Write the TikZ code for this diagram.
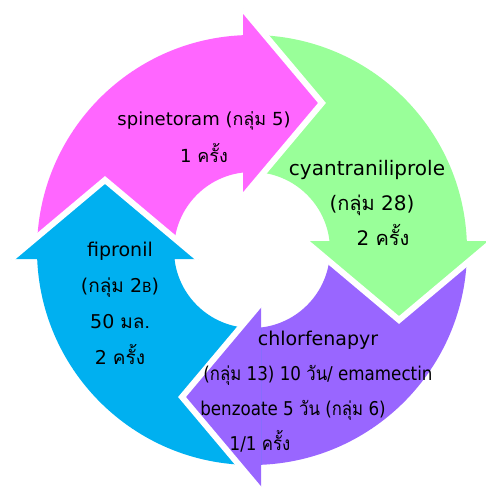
\documentclass[tikz,border=0pt]{standalone}
\usepackage{fontspec}
\setmainfont{DejaVu Sans}
\newfontfamily\thai[Script=Thai]{Loma}
\definecolor{pinkarr}{HTML}{FF66FF}
\definecolor{greenarr}{HTML}{99FF99}
\definecolor{purplearr}{HTML}{9966FF}
\definecolor{bluearr}{HTML}{00B0F0}
\begin{document}
\begin{tikzpicture}[x=1pt, y=1pt,
  every node/.style={align=center, font=\fontsize{19}{36}\selectfont},
  rim/.style={draw=white, line width=6pt, line join=miter}
]
  \useasboundingbox (-252,-240) rectangle (234,250);

  % ring bodies
  \begin{scope}
    \clip (-260,-9) rectangle (-9,260);
    \fill[pinkarr, even odd rule] (0,0) circle (215) (0,0) circle (78);
  \end{scope}
  \begin{scope}
    \clip (-9,9) rectangle (260,260);
    \fill[greenarr, even odd rule] (0,0) circle (215) (0,0) circle (78);
  \end{scope}
  \begin{scope}
    \clip (9,9) rectangle (260,-260);
    \fill[purplearr, even odd rule] (0,0) circle (215) (0,0) circle (78);
  \end{scope}
  \begin{scope}
    \clip (9,-9) rectangle (-260,-260);
    \fill[bluearr, even odd rule] (0,0) circle (215) (0,0) circle (78);
  \end{scope}

  % arrow heads
  \fill[pinkarr] (-9,241) -- (70,147) -- (-9,53) -- cycle;
  \draw[rim] (-9,241) -- (70,147) -- (-9,53);
  \fill[greenarr] (241,9) -- (147,-70) -- (53,9) -- cycle;
  \draw[rim] (241,9) -- (147,-70) -- (53,9);
  \fill[purplearr] (9,-241) -- (-70,-147) -- (9,-53) -- cycle;
  \draw[rim] (9,-241) -- (-70,-147) -- (9,-53);
  \fill[bluearr] (-241,-9) -- (-147,70) -- (-53,-9) -- cycle;
  \draw[rim] (-241,-9) -- (-147,70) -- (-53,-9);

  % labels
  \node[font=\fontsize{18}{37}\selectfont] (spine) at (-48,113)
    {spinetoram ({\thai กลุ่ม} 5)\\1 {\thai ครั้ง}};
  \node[font=\fontsize{20}{35}\selectfont] (cyan) at (115,47)
    {cyantraniliprole\\\hspace*{10pt}({\thai กลุ่ม} 28)\\\hspace*{32pt}2 {\thai ครั้ง}};
  \node (fipro) at (-132,-53)
    {fipronil\\({\thai กลุ่ม} 2{\fontsize{14}{14}\selectfont B})\\50 {\thai มล.}\\2 {\thai ครั้ง}};
  \node[font=\fontsize{19}{35}\selectfont] (chlor) at (66,-142)
    {chlorfenapyr\\\scalebox{0.88}[1]{({\thai กลุ่ม} 13) 10 {\thai วัน}/ emamectin}\\
     \scalebox{0.88}[1]{benzoate 5 {\thai วัน} ({\thai กลุ่ม} 6)}\hspace*{50pt}\mbox{}\\
     \scalebox{0.88}[1]{1/1 {\thai ครั้ง}}\hspace*{116pt}\mbox{}};
\end{tikzpicture}
\end{document}
